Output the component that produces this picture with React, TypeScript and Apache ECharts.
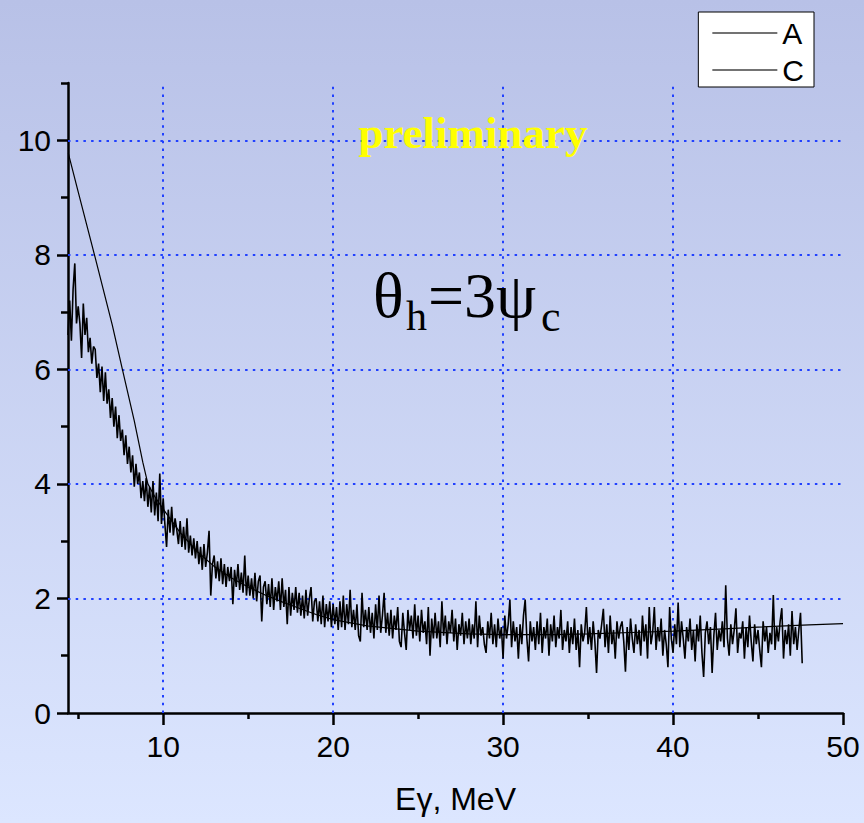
import React, { useEffect, useRef } from "react";
import * as echarts from "echarts";

// Series A: measured spectrum, sampled every 0.1 MeV starting at 4.4 MeV
const aStart = 4.4;
const aStep = 0.1;
const aValues: number[] = [
  6.6, 7.2, 6.5, 7.4, 7.85, 6.8,
  7.1, 6.8, 6.2, 7.15, 6.6, 6.9, 6.3, 6.55, 6.1, 6.4,
  6.35, 5.85, 6.1, 5.6, 6.05, 5.45, 5.95, 5.4, 5.65, 5.15,
  5.5, 5.0, 5.35, 4.8, 5.2, 4.75, 4.95, 4.5, 4.85, 4.35,
  4.65, 4.2, 4.5, 3.95, 4.35, 4.0, 4.2, 3.75, 4.05, 3.7,
  4.1, 3.6, 3.95, 3.5, 4.05, 3.45, 3.85, 3.35, 4.18, 3.3,
  3.75, 3.3, 2.9, 3.55, 3.15, 3.6, 3.1, 3.4, 3.2, 2.95,
  3.35, 2.9, 3.25, 2.85, 3.4, 2.8, 3.1, 2.75, 3.05, 2.7,
  3.0, 2.6, 2.9, 2.5, 2.95, 2.55, 2.8, 3.18, 2.05, 2.6,
  2.75, 2.35, 2.65, 2.3, 2.7, 2.25, 2.6, 2.2, 2.55, 2.3,
  2.55, 1.9, 2.5, 2.2, 2.6, 2.15, 2.45, 2.1, 2.75, 2.05,
  2.4, 2.05, 2.35, 2.0, 2.45, 1.95, 2.3, 2.4, 1.6, 2.2,
  2.3, 1.9, 2.25, 1.85, 2.35, 1.8, 2.2, 1.95, 2.3, 1.8,
  2.35, 1.85, 2.15, 1.55, 2.2, 1.7, 2.1, 1.8, 2.2, 1.75,
  2.1, 1.7, 2.05, 1.65, 2.15, 1.7, 2.0, 2.2, 1.6, 1.95,
  2.0, 1.6, 1.95, 1.55, 2.05, 1.5, 1.9, 1.6, 1.95, 1.5,
  1.9, 1.55, 1.85, 1.45, 1.95, 1.5, 2.05, 1.45, 1.9, 1.55,
  2.15, 1.5, 1.8, 1.45, 1.9, 1.35, 1.25, 2.1, 1.5, 1.8,
  1.45, 1.85, 1.4, 1.75, 1.3, 1.9, 1.45, 2.05, 1.4, 1.7,
  2.1, 1.4, 1.75, 1.35, 1.8, 1.3, 1.7, 1.45, 1.85, 1.25,
  1.15, 1.75, 1.4, 1.1, 1.8, 1.45, 1.7, 1.3, 1.9, 1.35,
  1.7, 1.25, 1.8, 1.4, 1.6, 1.2, 1.85, 1.0, 1.65, 1.3,
  1.75, 1.3, 1.6, 1.15, 1.95, 1.35, 1.7, 1.2, 1.6, 1.4,
  1.8, 1.25, 1.65, 1.1, 1.55, 1.35, 1.75, 1.2, 1.6, 1.3,
  1.65, 1.2, 1.55, 1.3, 1.95, 1.15, 1.7, 1.35, 1.5, 1.2,
  1.05, 1.6, 1.3, 1.75, 1.2, 1.55, 1.15, 1.65, 1.3, 1.5,
  0.95, 1.7, 1.3, 1.55, 1.98, 1.15, 1.6, 1.25, 1.5, 0.95,
  1.55, 1.2, 1.7, 1.98, 1.3, 0.9, 1.6, 1.25, 1.5, 1.1,
  1.6, 1.2, 1.75, 1.05, 1.5, 1.3, 1.65, 1.0, 1.55, 1.25,
  1.7, 1.15, 1.5, 1.3, 1.8, 1.1, 1.45, 1.25, 1.6, 1.05,
  1.5, 1.2, 1.65, 1.1, 1.45, 0.8, 1.55, 1.25, 1.4, 1.85,
  1.2, 1.5, 1.1, 1.6, 1.25, 0.7, 1.45, 1.3, 1.55, 1.82,
  1.15, 1.55, 1.05, 1.7, 1.2, 1.45, 0.95, 1.6, 1.3, 1.5,
  1.6, 1.25, 0.72, 1.5, 1.1, 1.65, 1.3, 1.05, 1.55, 1.2,
  1.45, 1.0, 1.7, 1.25, 1.55, 0.95, 1.85, 1.2, 1.4, 1.85,
  1.1, 1.5, 1.25, 1.65, 1.0, 1.45, 1.2, 0.8, 1.85, 1.3,
  1.05, 1.55, 1.2, 1.93, 1.15, 1.6, 1.3, 0.95, 1.5, 1.25,
  1.65, 1.1, 1.45, 0.9, 1.55, 1.25, 1.7, 1.05, 0.63, 1.4,
  1.6, 1.2, 1.5, 0.7, 1.35, 1.75, 1.1, 1.45, 1.25, 1.6,
  1.15, 2.23, 1.3, 1.0, 1.55, 1.2, 1.45, 1.83, 1.05, 1.4,
  1.3, 1.6, 0.95, 1.5, 1.15, 1.7, 1.25, 0.9, 1.55, 1.2,
  1.45, 1.1, 0.8, 1.6, 1.25, 1.5, 1.05, 1.4, 1.2, 2.06,
  1.1, 1.5, 1.25, 1.6, 1.83, 0.95, 1.45, 1.2, 1.55, 1.0,
  1.78, 1.2, 1.5, 1.1, 1.45, 1.75, 0.87,
];

// Series C: calculated curve
const cX: number[] = [4.42, 5, 6, 7, 7.6, 8.3, 8.8, 9.1, 9.5, 10, 11, 12, 13, 14, 15, 16, 17, 18, 19, 20, 22, 25, 28, 30, 33, 35, 38, 40, 43, 45, 48, 50];
const cY: number[] = [9.77, 9.1, 7.95, 6.78, 6.0, 5.1, 4.38, 4.0, 3.78, 3.56, 3.15, 2.82, 2.56, 2.36, 2.2, 2.06, 1.94, 1.83, 1.72, 1.63, 1.52, 1.43, 1.38, 1.37, 1.37, 1.38, 1.41, 1.43, 1.47, 1.5, 1.54, 1.56];

// Axes
const xMin = 4.4;
const xMax = 50;
const yMin = 0;
const yMax = 11;
const xMajor = [10, 20, 30, 40, 50];
const xMinor = [5, 15, 25, 35, 45];
const yMajor = [0, 2, 4, 6, 8, 10];
const yMinor = [1, 3, 5, 7, 9, 11];
const xGrid = [10, 20, 30, 40];
const yGrid = [2, 4, 6, 8, 10];

const seriesNames = ["A", "C"];
const xName = "Eγ, MeV";
const watermark = "preliminary";

export default function App() {
  const ref = useRef<HTMLDivElement>(null);

  useEffect(() => {
    if (!ref.current) return;
    const chart = echarts.init(ref.current, undefined, { renderer: "svg" });

    const aData = aValues.map((v, i) => [Number((aStart + i * aStep).toFixed(2)), v]);
    const cData = cX.map((x, i) => [x, cY[i]]);

    const sans = "Liberation Sans, Arial, sans-serif";
    const serif = "Liberation Serif, Times New Roman, serif";
    const axisCommon = {
      axisLine: { lineStyle: { color: "#000", width: 2.5 } },
      splitLine: { show: false },
    };

    const gridLineStyle = { type: [2.5, 5.2] as any, color: "#2040ff", width: 2 };

    chart.setOption({
      animation: false,
      backgroundColor: "#cdd6f4",
      graphic: [
        {
          type: "rect",
          z: -100,
          silent: true,
          shape: { x: 0, y: 0, width: 864, height: 823 },
          style: {
            fill: new echarts.graphic.LinearGradient(0, 0, 0, 1, [
              { offset: 0, color: "#b8c1e7" },
              { offset: 1, color: "#dce6ff" },
            ]),
          },
        },
        {
          type: "text",
          z: 10,
          x: 473,
          y: 133,
          style: {
            text: watermark,
            fill: "#ffff00",
            font: `bold 45px ${serif}`,
            align: "center",
            verticalAlign: "middle",
          },
        },
        {
          type: "text",
          z: 10,
          x: 373,
          y: 295,
          style: { text: "θ", fill: "#000", font: `64px ${serif}`, align: "left", verticalAlign: "middle" },
        },
        {
          type: "text",
          z: 10,
          x: 406,
          y: 316,
          style: { text: "h", fill: "#000", font: `42px ${serif}`, align: "left", verticalAlign: "middle" },
        },
        {
          type: "text",
          z: 10,
          x: 428,
          y: 295,
          style: { text: "=3ψ", fill: "#000", font: `64px ${serif}`, align: "left", verticalAlign: "middle" },
        },
        {
          type: "text",
          z: 10,
          x: 541,
          y: 316,
          style: { text: "c", fill: "#000", font: `44px ${serif}`, align: "left", verticalAlign: "middle" },
        },
      ],
      legend: {
        orient: "vertical",
        right: 50,
        top: 12,
        padding: [6, 10, 2, 14],
        itemGap: 7,
        itemWidth: 65,
        itemHeight: 1.5,
        icon: "rect",
        backgroundColor: "#ffffff",
        borderColor: "#000",
        borderWidth: 1,
        borderRadius: 0,
        selectedMode: false,
        textStyle: { fontSize: 30, color: "#000", fontFamily: sans },
        data: seriesNames.map((n) => ({ name: n, itemStyle: { color: "#444" } })),
      },
      grid: { left: 68, right: 21, top: 83, bottom: 110, containLabel: false },
      xAxis: [
        {
          type: "value",
          min: xMin,
          max: xMax,
          position: "bottom",
          ...axisCommon,
          axisTick: { show: true, length: 12, customValues: xMajor, lineStyle: { color: "#000", width: 2.5 } },
          axisLabel: { customValues: xMajor, fontSize: 30, color: "#000", margin: 18, fontFamily: sans },
          name: xName,
          nameLocation: "middle",
          nameGap: 70,
          nameTextStyle: { fontSize: 32, color: "#000", fontFamily: sans },
        },
        {
          type: "value",
          min: xMin,
          max: xMax,
          position: "bottom",
          axisLine: { show: false },
          splitLine: { show: false },
          axisTick: { show: true, length: 6, customValues: xMinor, lineStyle: { color: "#000", width: 2.5 } },
          axisLabel: { show: false },
        },
      ],
      yAxis: [
        {
          type: "value",
          min: yMin,
          max: yMax,
          position: "left",
          ...axisCommon,
          axisTick: { show: true, length: 11, customValues: yMajor, lineStyle: { color: "#000", width: 2.5 } },
          axisLabel: { customValues: yMajor, fontSize: 30, color: "#000", margin: 17, fontFamily: sans },
        },
        {
          type: "value",
          min: yMin,
          max: yMax,
          position: "left",
          axisLine: { show: false },
          splitLine: { show: false },
          axisTick: { show: true, length: 7, customValues: yMinor, lineStyle: { color: "#000", width: 2.5 } },
          axisLabel: { show: false },
        },
      ],
      series: [
        {
          name: "C",
          type: "line",
          data: cData,
          showSymbol: false,
          symbol: "none",
          lineStyle: { color: "#000", width: 1.2 },
          itemStyle: { color: "#000" },
          z: 3,
          markLine: {
            silent: true,
            symbol: "none",
            z: 1,
            label: { show: false },
            lineStyle: gridLineStyle,
            data: [
              ...xGrid.map((v) => ({ xAxis: v })),
              ...yGrid.map((v) => ({ yAxis: v })),
            ],
          },
        },
        {
          name: "A",
          type: "line",
          data: aData,
          showSymbol: false,
          symbol: "none",
          lineStyle: { color: "#000", width: 1.6 },
          itemStyle: { color: "#000" },
          z: 4,
        },
      ],
    });

    return () => chart.dispose();
  }, []);

  return (
    <div
      ref={ref}
      style={{ position: "absolute", left: 0, top: 0, width: 864, height: 823 }}
    />
  );
}
